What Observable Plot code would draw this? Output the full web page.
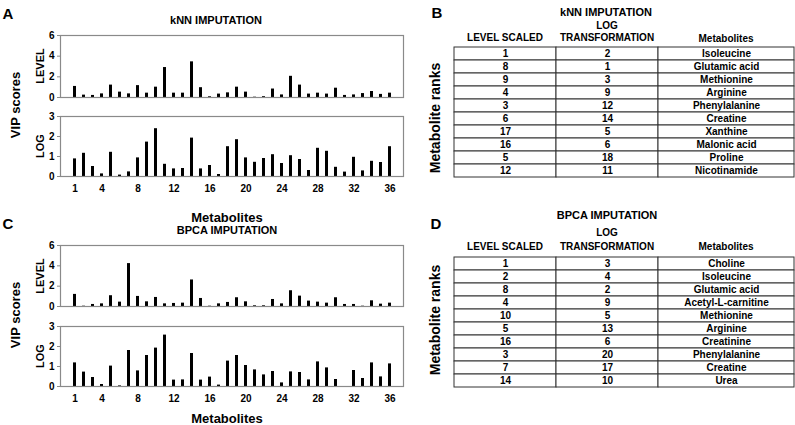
<!DOCTYPE html>
<html><head><meta charset="utf-8">
<script src="https://cdn.jsdelivr.net/npm/d3@7"></script>
<script src="https://cdn.jsdelivr.net/npm/@observablehq/plot@0.6"></script>
<style>
body{margin:0;background:#fff;}
#root{position:relative;width:795px;height:425px;overflow:hidden;font-family:"Liberation Sans",Arial,sans-serif;font-weight:bold;color:#000;background:#fff;}
.t{position:absolute;white-space:nowrap;line-height:1;font-weight:bold;}
.p{position:absolute;}
</style></head><body><div id="root"></div>
<script>
// ---------- DATA ----------
const metabolites = [1,2,3,4,5,6,7,8,9,10,11,12,13,14,15,16,17,18,19,20,21,22,23,24,25,26,27,28,29,30,31,32,33,34,35,36];
const xTickLabels = [1,4,8,12,16,20,24,28,32,36];
const levelTicks = [0,2,4,6];
const logTicks = [0,1,2,3];

const knnLevel = [1.07,0.23,0.2,0.35,1.2,0.52,0.35,1.15,0.42,1.0,2.9,0.42,0.42,3.45,0.95,0.07,0.33,0.45,1.0,0.52,0.03,0.08,0.82,0.25,2.05,1.2,0.33,0.42,0.33,0.9,0.2,0.25,0.38,0.58,0.3,0.42];
const knnLog = [0.88,1.16,0.5,0.13,1.21,0.07,0.23,0.93,1.72,2.39,0.61,0.38,0.4,1.92,0.38,0.55,0.1,1.49,1.84,0.93,0.71,0.9,1.09,0.65,1.04,0.85,0.3,1.41,1.26,0.46,0.22,0.96,0.28,0.76,0.7,1.49];
const bpcaLevel = [1.19,0.03,0.2,0.26,1.06,0.43,4.22,0.99,0.46,0.89,0.26,0.3,0.33,2.61,0.79,0.03,0.26,0.4,0.86,0.46,0.07,0.07,0.69,0.26,1.55,1.02,0.53,0.43,0.33,0.86,0.2,0.2,0.03,0.56,0.23,0.33];
const bpcaLog = [1.18,0.72,0.45,0.1,1.02,0.03,1.8,0.78,1.55,1.92,2.57,0.32,0.33,1.65,0.32,0.47,0.07,1.27,1.55,1.05,0.83,0.58,0.75,0.18,0.73,0.7,0.33,1.23,0.93,0.35,0,0.8,0.4,1.18,0.48,1.13];

const tableHeaders = ["LEVEL SCALED", "LOG", "TRANSFORMATION", "Metabolites"];
const knnRankLevel = [1,8,9,4,3,6,17,16,5,12];
const knnRankLog = [2,1,3,9,12,14,5,6,18,11];
const knnNames = ["Isoleucine","Glutamic acid","Methionine","Arginine","Phenylalanine","Creatine","Xanthine","Malonic acid","Proline","Nicotinamide"];
const bpcaRankLevel = [1,2,8,4,10,5,16,3,7,14];
const bpcaRankLog = [3,4,2,9,5,13,6,20,17,10];
const bpcaNames = ["Choline","Isoleucine","Glutamic acid","Acetyl-L-carnitine","Methionine","Arginine","Creatinine","Phenylalanine","Creatine","Urea"];

// ---------- LAYOUT ----------
const root = document.getElementById("root");
const FONT = '"Liberation Sans", Arial, sans-serif';

function label(text, x, y, size, rotate) {
  const d = document.createElement("div");
  d.className = "t";
  d.textContent = text;
  d.style.left = x + "px";
  d.style.top = y + "px";
  d.style.fontSize = size + "px";
  d.style.transform = "translate(-50%,-50%)" + (rotate ? " rotate(-90deg)" : "");
  root.appendChild(d);
}
function place(node, left, top) {
  node.classList.add("p");
  node.style.left = left + "px";
  node.style.top = top + "px";
  root.appendChild(node);
}

function barPanel(values, yMax, yTicks, showX, top, mt, innerH, mb) {
  const data = metabolites.map((m, i) => ({m, v: values[i]}));
  const marks = [
    Plot.barY(data, {x: "m", y: "v", fill: "#000"}),
    Plot.frame({stroke: "#8a8a8a", strokeWidth: 1.2}),
    Plot.axisY({ticks: yTicks, tickFormat: d => String(d), tickSize: 3, tickPadding: 3, stroke: "#8a8a8a", fill: "#000", fontSize: 10, fontWeight: "bold", label: null})
  ];
  if (showX) marks.push(Plot.axisX({ticks: xTickLabels, tickFormat: d => String(d), tickSize: 0, tickPadding: 8, fill: "#000", fontSize: 10, fontWeight: "bold", label: null}));
  const p = Plot.plot({
    width: 408, height: mt + innerH + mb,
    marginLeft: 60, marginRight: 5, marginTop: mt, marginBottom: mb,
    style: {fontFamily: FONT, background: "transparent", overflow: "visible"},
    x: {type: "band", domain: metabolites, padding: 0.64, insetLeft: 2, axis: showX ? undefined : null, label: null},
    y: {domain: [0, yMax], label: null},
    marks
  });
  place(p, 0, top);
}

function tablePanel(rankLevel, rankLog, names, top, innerH) {
  const colW = [102, 102, 136];
  const colStart = [0, 102, 204];
  const rows = names.map((_, i) => i);
  const cells = [];
  names.forEach((n, i) => {
    [rankLevel[i], rankLog[i], n].forEach((t, c) => cells.push({row: i, x1: colStart[c], x2: colStart[c] + colW[c], t: String(t)}));
  });
  const p = Plot.plot({
    width: 342, height: innerH + 2,
    marginLeft: 1, marginRight: 1, marginTop: 1, marginBottom: 1,
    style: {fontFamily: FONT, background: "transparent", overflow: "visible"},
    x: {domain: [0, 340], axis: null},
    y: {type: "band", domain: rows, padding: 0, axis: null},
    marks: [
      Plot.barX(cells, {x1: "x1", x2: "x2", y: "row", fill: "#fff", stroke: "#333", strokeWidth: 1}),
      Plot.text(cells, {x: d => (d.x1 + d.x2) / 2, y: "row", text: "t", fontSize: 10, fontWeight: "bold", fill: "#000"})
    ]
  });
  place(p, 453, top);
}

// Panel A
label("A", 8, 13, 15);
label("kNN IMPUTATION", 216, 20, 11);
barPanel(knnLevel, 6, levelTicks, false, 30, 5, 62, 5);
barPanel(knnLog, 3, logTicks, true, 110, 6, 60, 24);
label("LEVEL", 40, 66, 11, true);
label("LOG", 40, 146, 11, true);
label("VIP scores", 15, 105, 13, true);
label("Metabolites", 227, 217, 13);

// Panel C
label("C", 8, 223, 15);
label("BPCA IMPUTATION", 227, 230, 11);
barPanel(bpcaLevel, 6, levelTicks, false, 240, 5, 61, 5);
barPanel(bpcaLog, 3, logTicks, true, 320, 6, 60, 24);
label("LEVEL", 40, 276, 11, true);
label("LOG", 40, 356, 11, true);
label("VIP scores", 15, 315, 13, true);
label("Metabolites", 227, 418, 13);

// Panel B
label("B", 437, 12, 15);
label("kNN IMPUTATION", 606, 12, 11);
label(tableHeaders[1], 607, 26, 10);
label(tableHeaders[0], 505, 38, 10);
label(tableHeaders[2], 607, 38, 10);
label(tableHeaders[3], 726, 39, 10);
label("Metabolite ranks", 435, 118, 14, true);
tablePanel(knnRankLevel, knnRankLog, knnNames, 42, 138);

// Panel D
label("D", 436, 223, 15);
label("BPCA IMPUTATION", 607, 215, 11);
label(tableHeaders[1], 607, 233, 10);
label(tableHeaders[0], 505, 247, 10);
label(tableHeaders[2], 607, 247, 10);
label(tableHeaders[3], 726, 247, 10);
label("Metabolite ranks", 435, 320, 14, true);
tablePanel(bpcaRankLevel, bpcaRankLog, bpcaNames, 253, 135);
</script></body></html>
